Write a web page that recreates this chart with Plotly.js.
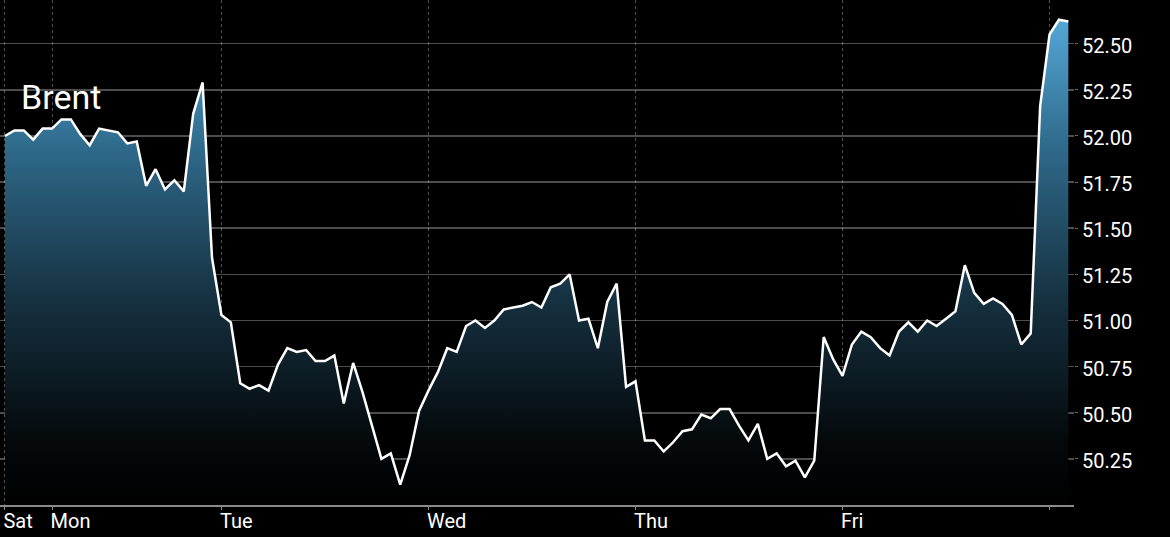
<!DOCTYPE html>
<html>
<head>
<meta charset="utf-8">
<script src="https://cdn.plot.ly/plotly-3.0.1.min.js"></script>
<style>
  html, body { margin: 0; padding: 0; background: #000; }
  #chart { width: 1170px; height: 537px; }
</style>
</head>
<body>
<div id="chart"></div>
<script>
// Brent price, one sample per step (index)
const brentPrices = [
  52.00, 52.03, 52.03, 51.98, 52.04, 52.04, 52.09, 52.09, 52.01, 51.95,
  52.04, 52.03, 52.02, 51.96, 51.97, 51.73, 51.82, 51.71, 51.76, 51.70,
  52.12, 52.29, 51.34, 51.03, 50.99, 50.66, 50.63, 50.65, 50.62, 50.76,
  50.85, 50.83, 50.84, 50.78, 50.78, 50.81, 50.55, 50.77, 50.61, 50.43,
  50.25, 50.28, 50.11, 50.27, 50.51, 50.62, 50.72, 50.85, 50.83, 50.97,
  51.00, 50.96, 51.00, 51.06, 51.07, 51.08, 51.10, 51.07, 51.18, 51.20,
  51.25, 51.00, 51.01, 50.85, 51.10, 51.20, 50.64, 50.67, 50.35, 50.35,
  50.29, 50.34, 50.40, 50.41, 50.49, 50.47, 50.52, 50.52, 50.43, 50.35,
  50.44, 50.25, 50.28, 50.21, 50.24, 50.15, 50.24, 50.91, 50.79, 50.70,
  50.87, 50.94, 50.91, 50.85, 50.81, 50.94, 50.99, 50.94, 51.00, 50.97,
  51.01, 51.05, 51.30, 51.15, 51.09, 51.12, 51.09, 51.03, 50.87, 50.93,
  52.16, 52.55, 52.63, 52.62
];
const sampleIndex = brentPrices.map((_, i) => i);

// day boundaries (sample index) and their labels
const dayTickIndex = [0, 5, 23, 45, 67, 89, 111];
const dayTickLabels = ['Sat', 'Mon', 'Tue', 'Wed', 'Thu', 'Fri', ''];

// price axis ticks
const priceTicks = [50.25, 50.50, 50.75, 51.00, 51.25, 51.50, 51.75, 52.00, 52.25, 52.50];
const seriesName = 'Brent';

const trace = {
  x: sampleIndex,
  y: brentPrices,
  type: 'scatter',
  mode: 'lines',
  name: seriesName,
  line: { color: '#ffffff', width: 2.5 },
  fill: 'tozeroy',
  fillgradient: {
    type: 'vertical',
    start: 50.0,
    stop: 52.74,
    colorscale: [
      [0, '#000000'],
      [0.12, '#04080a'],
      [0.4, '#15303f'],
      [0.7, '#2e6889'],
      [1, '#5ab0e2']
    ]
  },
  hoverinfo: 'skip'
};

const layout = {
  width: 1170,
  height: 537,
  paper_bgcolor: '#000000',
  plot_bgcolor: '#000000',
  margin: { l: 0, r: 96, t: 0, b: 32 },
  showlegend: false,
  font: { family: 'Roboto, sans-serif', color: '#ffffff', size: 20 },
  xaxis: {
    range: [-0.53, 113.6],
    tickmode: 'array',
    tickvals: dayTickIndex,
    ticktext: dayTickLabels,
    ticklabelposition: 'outside right',
    ticklabelstandoff: -3,
    ticklabelshift: -3,
    showgrid: true,
    gridcolor: 'rgba(255,255,255,0.32)',
    griddash: 'dot',
    gridwidth: 1,
    zeroline: false,
    showline: true,
    linecolor: '#8a8a8a',
    linewidth: 2,
    ticks: 'outside',
    ticklen: 3,
    tickcolor: '#8a8a8a',
    tickfont: { family: 'Roboto, sans-serif', size: 20, color: '#ffffff' },
    fixedrange: true
  },
  yaxis: {
    side: 'right',
    range: [50.0, 52.737],
    tickmode: 'array',
    tickvals: priceTicks,
    tickformat: '.2f',
    showgrid: true,
    gridcolor: 'rgba(255,255,255,0.3)',
    gridwidth: 1.5,
    zeroline: false,
    showline: false,
    ticks: 'outside',
    ticklen: 3,
    tickcolor: '#666666',
    ticklabelshift: 2,
    tickfont: { family: 'Roboto, sans-serif', size: 20, color: '#ffffff' },
    fixedrange: true
  },
  annotations: [
    {
      text: seriesName,
      xref: 'paper', yref: 'paper',
      x: 19 / 1074, y: 1 - 75 / 505,
      xanchor: 'left', yanchor: 'top',
      showarrow: false,
      font: { family: 'Roboto, sans-serif', size: 34, color: '#ffffff' }
    }
  ]
};

Plotly.newPlot('chart', [trace], layout, { displayModeBar: false, staticPlot: true });
</script>
</body>
</html>
